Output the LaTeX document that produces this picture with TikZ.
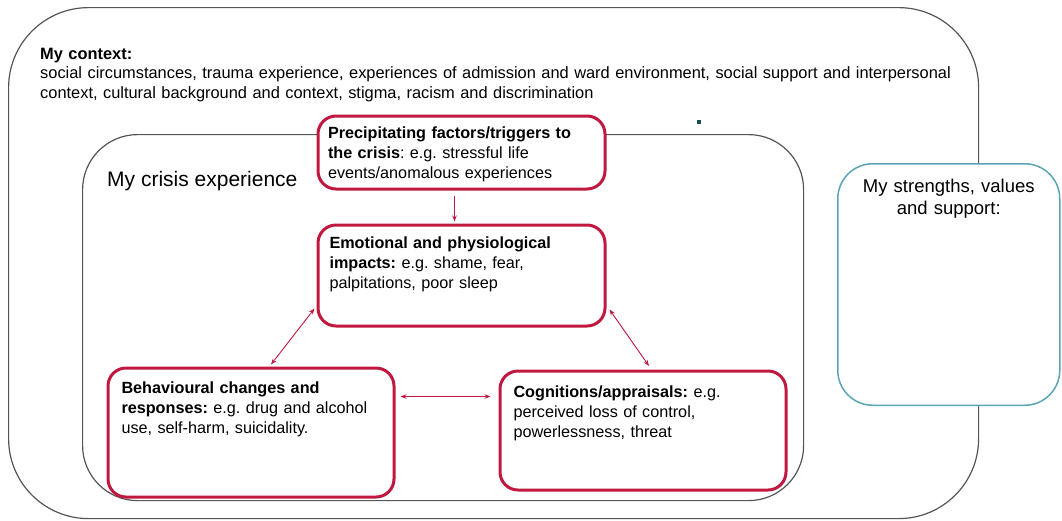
\documentclass[tikz,border=0pt]{standalone}
\usepackage{fontspec}
\setmainfont{Liberation Sans}
\usetikzlibrary{arrows.meta, calc}
\frenchspacing
\definecolor{crisisred}{HTML}{C0183F}
\definecolor{supportteal}{HTML}{5AA5B4}
\definecolor{framegray}{HTML}{555555}
\definecolor{dotnavy}{HTML}{1E4A55}
\tikzset{
  ctxframe/.style={rectangle, rounded corners=#1, draw=framegray, line width=1.2pt,
                   anchor=north west, inner sep=0pt},
  rbox/.style={rectangle, rounded corners=18pt, draw=crisisred, fill=white, line width=3pt,
               anchor=north west, align=left, text height=12pt,
               font=\fontsize{16.2}{20}\selectfont},
  sbox/.style={rectangle, rounded corners=35pt, draw=supportteal, fill=white, line width=1.5pt,
               anchor=north west, align=center, text width=200pt, inner xsep=11pt,
               inner ysep=15pt, text height=13.5pt, text depth=198pt,
               font=\fontsize{18.5}{22.5}\selectfont},
  arr/.style={<->, >={Stealth[length=6pt,width=4.5pt]}, line width=0.9pt, draw=crisisred},
}

\begin{document}
\begin{tikzpicture}[x=1pt, y=-1pt]
  \useasboundingbox (0,0) rectangle (1062,520);
  % containers
  \node[ctxframe=80pt, minimum width=970pt, minimum height=511pt] (context) at (8,7) {};
  \node[ctxframe=55pt, minimum width=721pt, minimum height=366pt] (crisis) at (82,134) {};
  \node[anchor=base west, inner sep=0pt, text width=960pt, align=left,
        font=\fontsize{16.4}{19.5}\selectfont] (ctxtext) at (40,59)
    {\textbf{My context:}\\
     social circumstances, trauma experience, experiences of admission and ward environment, social support and interpersonal\\
     context, cultural background and context, stigma, racism and discrimination};
  \node[anchor=base west, inner sep=0pt, font=\fontsize{21}{25}\selectfont]
    (crisislbl) at (107,186) {My crisis experience};
  \node[fill=dotnavy, minimum size=4pt, inner sep=0pt] (dot) at (699,122) {};

  % crisis cycle
  \node[rbox, inner xsep=10pt, inner ysep=10.5pt, text width=267pt, text depth=40pt]
    (precip) at (316.5,114.5)
    {\textbf{Precipitating factors/triggers to}\\
     \textbf{the crisis}: e.g. stressful life\\
     events/anomalous experiences};
  \node[rbox, inner xsep=11.5pt, inner ysep=11.5pt, text width=264pt, text depth=66pt]
    (emotional) at (316.5,223.5)
    {\textbf{Emotional and physiological}\\
     \textbf{impacts:} e.g. shame, fear,\\
     palpitations, poor sleep};
  \node[rbox, inner xsep=13.5pt, inner ysep=13.5pt, text width=259pt, text depth=90pt]
    (behav) at (106.5,366.5)
    {\textbf{Behavioural changes and}\\
     \textbf{responses:} e.g. drug and alcohol\\
     use, self-harm, suicidality.};
  \node[rbox, inner xsep=13.5pt, inner ysep=14pt, text width=259pt, text depth=79pt]
    (cogn) at (498.5,369.5)
    {\textbf{Cognitions/appraisals:} e.g.\\
     perceived loss of control,\\
     powerlessness, threat};

  % strengths
  \node[sbox] (strengths) at (837,163) {My strengths, values\\and support:};

  % links
  \draw[arr, <-] ($(emotional.north)+(-7,-2)$) -- ($(precip.south)+(-7,5)$);
  \draw[arr] ($(emotional.south west)+(-2,-19)$) -- ($(behav.north west)+(164.5,-2)$);
  \draw[arr] ($(emotional.south east)+(3,-18)$) -- ($(cogn.north west)+(150.5,-3.5)$);
  \draw[arr] ($(behav.north east)+(5,30)$) -- ($(cogn.north west)+(-8,27)$);
\end{tikzpicture}
\end{document}
